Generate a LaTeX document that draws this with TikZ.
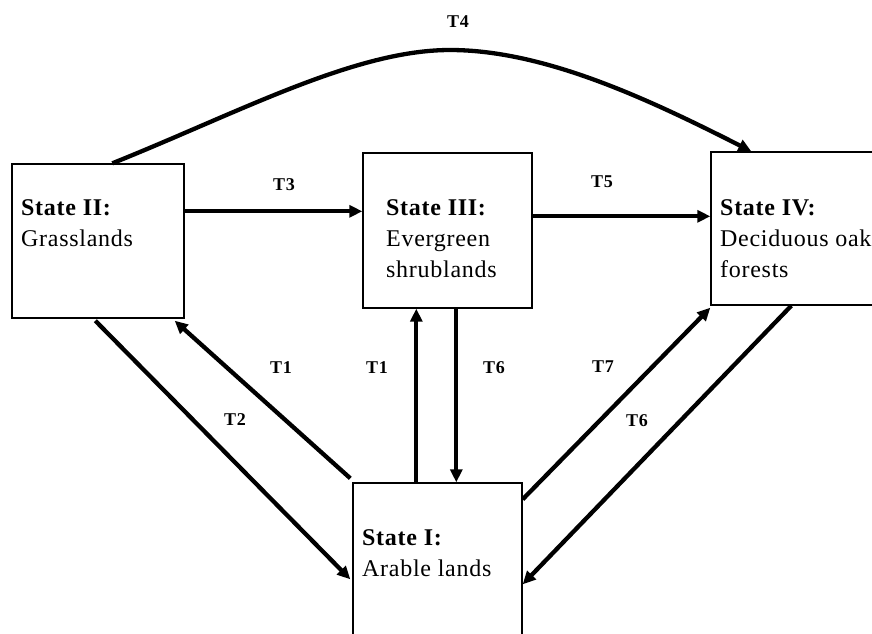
\documentclass[tikz,border=0pt]{standalone}
\usepackage{fontspec}
\setmainfont{Liberation Serif}[LetterSpace=3]
\usetikzlibrary{arrows.meta,calc}
\begin{document}
\begin{tikzpicture}[x=1pt,y=-1pt,
  statebox/.style={draw=black,line width=1.4pt,fill=white,inner sep=0pt,rectangle},
  statetext/.style={anchor=north west,inner sep=0pt,align=left,font=\fontsize{24}{31}\selectfont},
  tlabel/.style={font=\fontsize{18}{18}\selectfont\bfseries,inner sep=0pt},
  trans/.style={line width=4.3pt,-{Triangle[length=13pt,width=12pt]}}]
\useasboundingbox (0,0) rectangle (872,633);
\fill[white] (0,0) rectangle (872,633);
% boxes
\node[statebox,minimum width=172pt,minimum height=154pt] (II) at (98,241) {};
\node[statebox,minimum width=169pt,minimum height=155pt] (III) at (447.5,230.5) {};
\node[statebox,minimum width=178pt,minimum height=153pt] (IV) at (800,228.5) {};
\node[statebox,minimum width=169pt,minimum height=170pt] (I) at (437.5,568) {};
% texts
\node[statetext] (tII) at (21,199) {\textbf{State II:}\\Grasslands};
\node[statetext] (tIII) at (386,199) {\textbf{State III:}\\Evergreen\\shrublands};
\node[statetext] (tIV) at (720,199) {\textbf{State IV:}\\Deciduous oak\\forests};
\node[statetext] (tI) at (362,529) {\textbf{State I:}\\Arable lands};
% connectors
\draw[trans] ($(II.north west)+(101,0)$) .. controls (240,112) and (355,50) .. (450,50)
  .. controls (545,50) and (650,100) .. ($(IV.north west)+(41,0)$);
\draw[trans] ($(II.north east)+(0,48)$) -- ($(III.north west)+(0,59)$);
\draw[trans] ($(III.north east)+(0,64)$) -- ($(IV.north west)+(0,65)$);
\draw[trans] ($(I.north west)+(-2,-4)$) -- ($(II.south east)+(-10,2)$);
\draw[trans] ($(II.south west)+(84,2)$) -- ($(I.north west)+(-2,97)$);
\draw[trans] ($(I.north west)+(64,0)$) -- ($(III.south west)+(54,0)$);
\draw[trans] ($(III.south west)+(94,0)$) -- ($(I.north west)+(104,0)$);
\draw[trans] ($(I.north east)+(0,17)$) -- ($(IV.south west)+(0,2)$);
\draw[trans] ($(IV.south west)+(81,0)$) -- ($(I.north east)+(0,102)$);
% labels
\node[tlabel] (l4) at (458,22) {T4};
\node[tlabel] (l3) at (284,185) {T3};
\node[tlabel] (l5) at (602,182) {T5};
\node[tlabel] (l1a) at (281,368) {T1};
\node[tlabel] (l1b) at (377,368) {T1};
\node[tlabel] (l6a) at (494,368) {T6};
\node[tlabel] (l7) at (603,367) {T7};
\node[tlabel] (l2) at (235,420) {T2};
\node[tlabel] (l6b) at (637,421) {T6};
\end{tikzpicture}
\end{document}
